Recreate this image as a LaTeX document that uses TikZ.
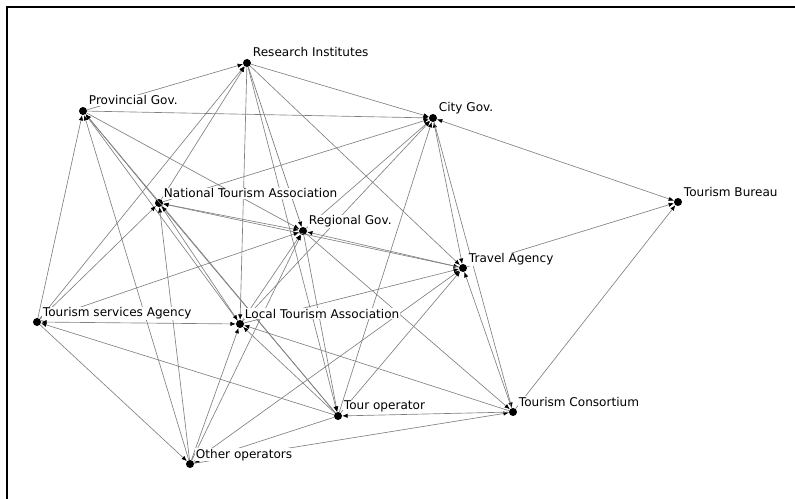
\documentclass[tikz,border=0pt]{standalone}
\usepackage{fontspec}
\setmainfont{DejaVu Sans}
\usetikzlibrary{arrows.meta}

\tikzset{
  actor/.style={circle, fill=black, inner sep=0pt, minimum size=2.4mm},
  tag/.style={anchor=base west, fill=white, inner sep=0.6pt, font=\fontsize{10.3}{12}\selectfont},
  tie/.style={draw=gray, line width=0.55pt, -{Latex[length=1.6mm,width=1.3mm,color=black]}},
  mutual/.style={draw=gray, line width=0.55pt, {Latex[length=1.6mm,width=1.3mm,color=black]}-{Latex[length=1.6mm,width=1.3mm,color=black]}}
}

\begin{document}
\begin{tikzpicture}[x=0.3mm,y=-0.3mm]
\useasboundingbox (0,0) rectangle (795,499);
\draw[line width=0.6mm] (7,7) rectangle (830,530);

% actors
\node[actor] (ri) at (247,63) {};
\node[actor] (pg) at (83,111) {};
\node[actor] (cg) at (433,118) {};
\node[actor] (tb) at (678,202) {};
\node[actor] (nta) at (159,203) {};
\node[actor] (rg) at (303,231) {};
\node[actor] (ta) at (463,268) {};
\node[actor] (tsa) at (37,322) {};
\node[actor] (lta) at (240,324) {};
\node[actor] (to) at (338,416) {};
\node[actor] (tc) at (513,412) {};
\node[actor] (oo) at (190,464) {};

% ties
\draw[tie] (pg) -- (ri);
\draw[tie] (ri) -- (cg);
\draw[tie] (pg) -- (cg);
\draw[mutual] (cg) -- (tb);
\draw[tie] (ta) -- (tb);
\draw[tie] (tc) -- (tb);
\draw[mutual] (nta) -- (rg);
\draw[mutual] (rg) -- (ta);
\draw[tie] (ta) -- (nta);
\draw[tie] (nta) -- (cg);
\draw[tie] (rg) -- (cg);
\draw[tie] (lta) -- (cg);
\draw[tie] (to) -- (cg);
\draw[mutual] (ta) -- (cg);
\draw[tie] (cg) -- (tc);
\draw[tie] (tsa) -- (ri);
\draw[tie] (nta) -- (ri);
\draw[tie] (ri) -- (lta);
\draw[tie] (ri) -- (rg);
\draw[tie] (ri) -- (to);
\draw[tie] (ri) -- (ta);
\draw[tie] (tsa) -- (pg);
\draw[tie] (oo) -- (pg);
\draw[tie] (nta) -- (pg);
\draw[tie] (lta) -- (pg);
\draw[tie] (to) -- (pg);
\draw[tie] (pg) -- (rg);
\draw[mutual] (tsa) -- (lta);
\draw[tie] (to) -- (tsa);
\draw[tie] (tsa) -- (oo);
\draw[tie] (tsa) -- (rg);
\draw[tie] (tsa) -- (nta);
\draw[tie] (oo) -- (nta);
\draw[tie] (oo) -- (lta);
\draw[tie] (oo) -- (rg);
\draw[tie] (oo) -- (ta);
\draw[tie] (to) -- (oo);
\draw[tie] (oo) -- (tc);
\draw[tie] (nta) -- (lta);
\draw[tie] (to) -- (nta);
\draw[tie] (lta) -- (rg);
\draw[tie] (lta) -- (ta);
\draw[tie] (tc) -- (lta);
\draw[tie] (to) -- (lta);
\draw[tie] (rg) -- (to);
\draw[tie] (rg) -- (tc);
\draw[tie] (to) -- (ta);
\draw[tie] (tc) -- (to);
\draw[tie] (tc) -- (ta);

% names (drawn last, they hide the ties behind them)
\node[tag] (riL) at (252,57) {Research Institutes};
\node[tag] (pgL) at (88,105) {Provincial Gov.};
\node[tag] (cgL) at (438,112) {City Gov.};
\node[tag] (tbL) at (683,197) {Tourism Bureau};
\node[tag] (ntaL) at (163,198) {National Tourism Association};
\node[tag] (rgL) at (308,225) {Regional Gov.};
\node[tag] (taL) at (468,263) {Travel Agency};
\node[tag] (tsaL) at (42,317) {Tourism services Agency};
\node[tag] (ltaL) at (244,318) {Local Tourism Association};
\node[tag] (toL) at (343,409) {Tour operator};
\node[tag] (tcL) at (518,406) {Tourism Consortium};
\node[tag] (ooL) at (195,458) {Other operators};
\end{tikzpicture}
\end{document}
